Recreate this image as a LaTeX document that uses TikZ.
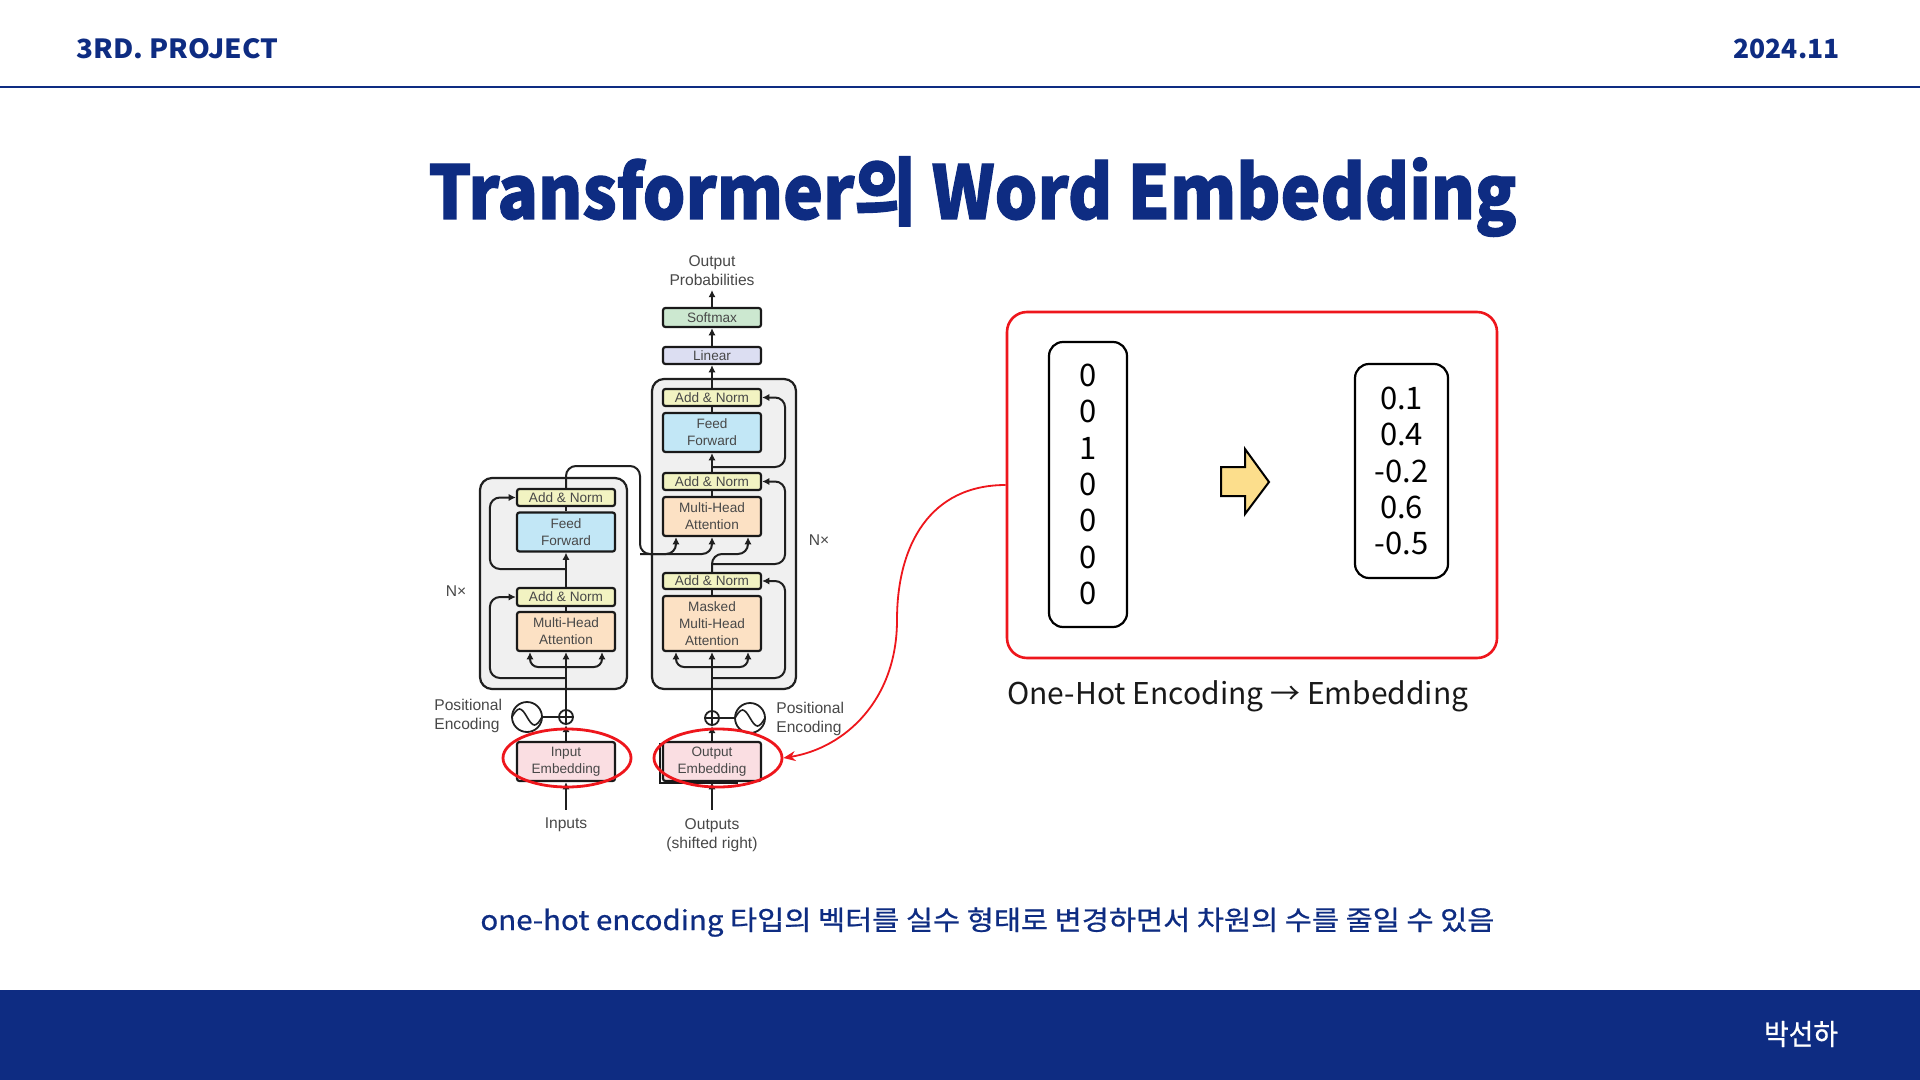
\documentclass[tikz,border=0pt]{standalone}
\usepackage{fontspec}
\usepackage{graphicx}
\usetikzlibrary{arrows.meta,shapes.geometric}
\newfontfamily\krfont{Noto Sans CJK KR}
\newfontfamily\krheavy{Noto Sans CJK KR}[BoldFeatures={FakeBold=1.6}]
\newfontfamily\krmedium{Noto Sans CJK KR}[FakeBold=0.6]
\newfontfamily\arialfont{Liberation Sans}
\definecolor{navy}{RGB}{14,44,130}
\definecolor{anfill}{RGB}{242,243,194}
\definecolor{fffill}{RGB}{194,231,246}
\definecolor{mhafill}{RGB}{252,225,196}
\definecolor{embfill}{RGB}{250,222,226}
\definecolor{linfill}{RGB}{220,222,242}
\definecolor{softfill}{RGB}{204,232,208}
\definecolor{blockgray}{RGB}{240,240,240}
\definecolor{txtgray}{RGB}{72,72,72}
\definecolor{hlred}{RGB}{238,22,28}
\definecolor{arrowyellow}{RGB}{252,222,140}
\begin{document}
\begin{tikzpicture}[x=0.5pt,y=-0.5pt,
  wire/.style={draw=black!88, line width=1pt},
  arr/.style={wire, -{Latex[length=3.6pt,width=3.6pt]}},
  blk/.style={draw=black!90, line width=1.1pt, rounded corners=1.2pt, minimum width=49pt,
    inner sep=0pt, align=center, text=txtgray, font=\arialfont\fontsize{6.8}{8.5}\selectfont},
  addnorm/.style={blk, fill=anfill, minimum height=8.5pt},
  ffbox/.style={blk, fill=fffill, minimum height=19.5pt},
  mhabox/.style={blk, fill=mhafill, minimum height=19.5pt},
  embbox/.style={blk, fill=embfill, minimum height=19.5pt},
  layer/.style={draw=black!88, line width=1.1pt, fill=blockgray, rounded corners=6pt, inner sep=0pt},
  lbl/.style={text=txtgray, font=\arialfont\fontsize{7.8}{9.6}\selectfont, inner sep=0pt, align=center},
  plusnode/.style={circle, draw=black!88, line width=0.9pt, fill=white, minimum size=7pt, inner sep=0pt},
  sinenode/.style={circle, draw=black!88, line width=0.9pt, fill=white, minimum size=15pt, inner sep=0pt},
  redring/.style={ellipse, draw=hlred, line width=1.4pt, minimum width=64pt, minimum height=29pt, inner sep=0pt},
  vecbox/.style={draw=black, line width=1.1pt, rounded corners=7pt, inner sep=0pt, align=center,
    font=\krfont\fontsize{15.5}{18.15}\selectfont}
]
\useasboundingbox (0,0) rectangle (1920,1080);
\fill[white] (0,0) rectangle (1920,1080);

% ---------- header and footer ----------
\node[anchor=base west, inner sep=0pt, text=navy] (proj) at (76,59)
  {\resizebox{101pt}{\height}{\krfont\bfseries\fontsize{13.2}{16}\selectfont 3RD. PROJECT}};
\node[anchor=base east, inner sep=0pt, text=navy] (date) at (1840,59)
  {\resizebox{53pt}{\height}{\krfont\bfseries\fontsize{13.2}{16}\selectfont 2024.11}};
\draw[navy, line width=1pt] (0,87) -- (1920,87);
\fill[navy] (0,990) rectangle (1920,1080);
\node[anchor=center, inner sep=0pt, text=white] (author) at (1801,1034)
  {\resizebox{37pt}{\height}{\krmedium\fontsize{14.5}{16}\selectfont 박선하}};

% ---------- title and summary ----------
\node[anchor=base, inner sep=0pt, text=navy] (title) at (972.5,219)
  {\resizebox{544pt}{\height}{\krheavy\bfseries\fontsize{37}{42}\selectfont Transformer의 Word Embedding}};
\node[anchor=base west, inner sep=0pt, text=navy] (summary) at (480,930)
  {\resizebox{507pt}{\height}{\krmedium\fontsize{13.5}{16}\selectfont one-hot encoding 타입의 벡터를 실수 형태로 변경하면서 차원의 수를 줄일 수 있음}};

% ---------- encoder / decoder stacks ----------
\node[layer, minimum width=73.5pt, minimum height=105.5pt] (egray) at (553.5,583.5) {};
\node[layer, minimum width=72pt, minimum height=155pt] (dgray) at (724,534) {};

% encoder
\node[addnorm] (ean2) at (566,497.5) {Add \& Norm};
\node[ffbox]   (eff)  at (566,532)   {Feed\\Forward};
\node[addnorm, minimum height=9pt] (ean1) at (566,597) {Add \& Norm};
\node[mhabox]  (emha) at (566,631.5) {Multi-Head\\Attention};
\node[embbox]  (iemb) at (566,761.5) {Input\\Embedding};
\node[plusnode] (eplus) at (566,717) {};
\node[sinenode] (esin) at (527,717) {};

% decoder
\node[blk, fill=softfill, minimum height=9.5pt] (soft) at (712,317.5) {Softmax};
\node[blk, fill=linfill, minimum height=8.5pt] (lin) at (712,355.5) {Linear};
\node[addnorm] (dan3) at (712,397.5) {Add \& Norm};
\node[ffbox]   (dff)  at (712,432.5) {Feed\\Forward};
\node[addnorm] (dan2) at (712,481.5) {Add \& Norm};
\node[mhabox]  (dmha) at (712,516.5) {Multi-Head\\Attention};
\node[addnorm, minimum height=8pt] (dan1) at (712,581) {Add \& Norm};
\node[blk, fill=mhafill, minimum height=27.5pt] (dmask) at (712,623.5) {Masked\\Multi-Head\\Attention};
% stacked edge behind the output embedding
\draw[black!90, line width=1.1pt] ([shift={(-1pt,-1pt)}]680,742) -- ([shift={(-1pt,-1pt)}]662,742) |- ([shift={(-1pt,-1pt)}]740,781);
\node[embbox]  (oemb) at (712,761.5) {Output\\Embedding};
\node[plusnode] (dplus) at (712,718) {};
\node[sinenode] (dsin) at (750,718) {};

% plus signs and sine waves
\foreach \p in {eplus,dplus}{
  \draw[black!88, line width=0.8pt] (\p.north) -- (\p.south) (\p.west) -- (\p.east);
}
\foreach \s in {esin,dsin}{
  \draw[black!88, line width=0.8pt] ([xshift=-7.5pt]\s.center) sin ([shift={(-3.75pt,4pt)}]\s.center)
    cos (\s.center) sin ([shift={(3.75pt,-4pt)}]\s.center) cos ([xshift=7.5pt]\s.center);
}

% text labels
\node[lbl] (outprob) at (712,270.5) {Output\\Probabilities};
\node[lbl] (inputs) at (566,825) {Inputs};
\node[lbl] (outputs) at (712,835) {Outputs\\(shifted right)};
\node[lbl, align=left, anchor=west] (eposlbl) at (434,716) {Positional\\Encoding};
\node[lbl, align=left, anchor=west] (dposlbl) at (776,719) {Positional\\Encoding};
\node[lbl] (encn) at (456,591) {N×};
\node[lbl] (decn) at (819,540) {N×};

% encoder wiring
\draw[arr, shorten <=4pt] (inputs.north) -- (iemb.south);
\draw[arr] (iemb.north) -- (eplus.south);
\draw[wire] (esin.east) -- (eplus.west);
\draw[arr] (eplus.north) -- (emha.south);
\coordinate (ebr) at (566,667);
\coordinate (er1) at (566,678);
\coordinate (er2) at (566,569);
\draw[arr, rounded corners=4pt] (ebr) -| ([xshift=-18pt]emha.south);
\draw[arr, rounded corners=4pt] (ebr) -| ([xshift=18pt]emha.south);
\draw[arr, rounded corners=5pt] (er1) -| ([xshift=-13pt]ean1.west) -- (ean1.west);
\draw[arr, rounded corners=5pt] (er2) -| ([xshift=-13pt]ean2.west) -- (ean2.west);
\draw[wire] (emha.north) -- (ean1.south);
\draw[arr] (ean1.north) -- (eff.south);
\draw[wire] (eff.north) -- (ean2.south);

% encoder output into the decoder attention
\coordinate (eo) at (640,466);
\coordinate (ejoin) at (640,554);
\draw[arr, rounded corners=5pt] (ean2.north) |- (eo) -- (ejoin) -| ([xshift=-18pt]dmha.south);
\draw[arr, rounded corners=5pt] (ejoin) -| (dmha.south);

% decoder wiring
\draw[arr, shorten <=4pt] (outputs.north) -- (oemb.south);
\draw[arr] (oemb.north) -- (dplus.south);
\draw[wire] (dsin.west) -- (dplus.east);
\draw[arr] (dplus.north) -- (dmask.south);
\coordinate (dbr) at (712,667);
\coordinate (dr1) at (712,678);
\coordinate (dr2) at (712,564);
\coordinate (dr3) at (712,467);
\coordinate (dq) at (712,554);
\draw[arr, rounded corners=4pt] (dbr) -| ([xshift=-18pt]dmask.south);
\draw[arr, rounded corners=4pt] (dbr) -| ([xshift=18pt]dmask.south);
\draw[arr, rounded corners=5pt] (dr1) -| ([xshift=11.5pt]dan1.east) -- (dan1.east);
\draw[wire] (dmask.north) -- (dan1.south);
\draw[arr, rounded corners=5pt] (dan1.north) -- (dq) -| ([xshift=18pt]dmha.south);
\draw[arr, rounded corners=5pt] (dr2) -| ([xshift=11.5pt]dan2.east) -- (dan2.east);
\draw[wire] (dmha.north) -- (dan2.south);
\draw[arr] (dan2.north) -- (dff.south);
\draw[arr, rounded corners=5pt] (dr3) -| ([xshift=11.5pt]dan3.east) -- (dan3.east);
\draw[wire] (dff.north) -- (dan3.south);
\draw[arr] (dan3.north) -- (lin.south);
\draw[arr] (lin.north) -- (soft.south);
\draw[arr, shorten >=2pt] (soft.north) -- (outprob.south);

% highlighted embeddings
\node[redring] (iell) at (567,758) {};
\node[redring] (oell) at (718,758) {};

% ---------- one-hot vs embedding panel ----------
\node[draw=hlred, line width=1.3pt, rounded corners=10pt, minimum width=245pt, minimum height=173pt, inner sep=0pt] (panel) at (1252,485) {};
\node[vecbox, minimum width=39pt, minimum height=142.5pt] (onehot) at (1088,484.5) {0\\0\\1\\0\\0\\0\\0};
\node[vecbox, minimum width=46.5pt, minimum height=107pt] (embvec) at (1401.5,471) {0.1\\0.4\\-0.2\\0.6\\-0.5};
\draw[black, line width=1pt, fill=arrowyellow, line join=miter]
  (1221,467) -- (1245,467) -- (1245,449) -- (1269,482) -- (1245,514) -- (1245,496) -- (1221,496) -- cycle;
\node[anchor=base west, inner sep=0pt, text=black!90] (caption) at (1007,704)
  {\resizebox{230.5pt}{\height}{\krfont\fontsize{15}{18}\selectfont One-Hot Encoding → Embedding}};

% link from the panel to the output embedding
\draw[hlred, line width=0.9pt, -{Stealth[length=6pt,width=5pt]}]
  (panel.west) .. controls (930,485) and (897,545) .. (897,620)
  .. controls (897,700) and (845,748) .. (oell.east);
\end{tikzpicture}
\end{document}
